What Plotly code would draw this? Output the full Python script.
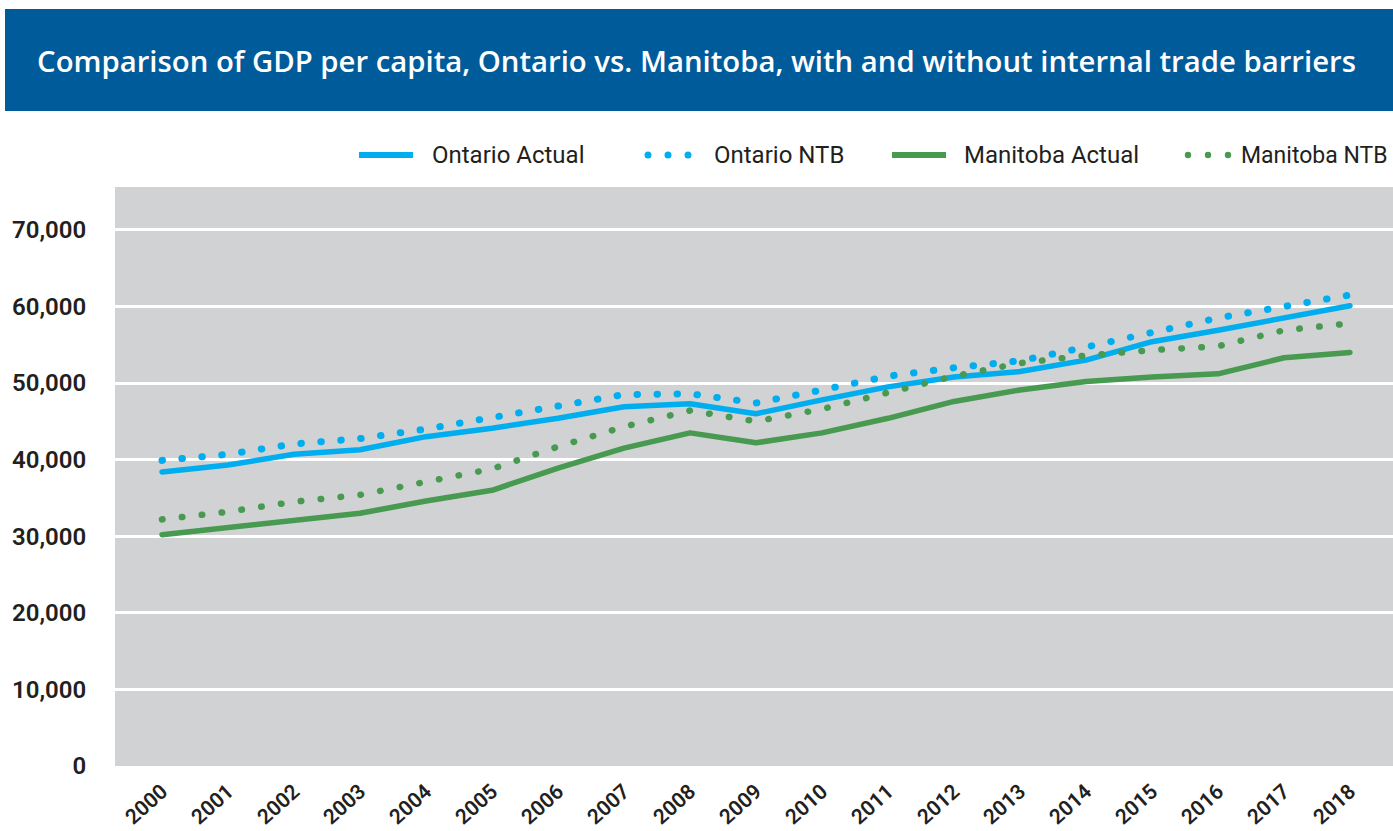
import plotly.graph_objects as go

years = list(range(2000, 2019))
ontario_actual = [38400, 39300, 40700, 41300, 43000, 44100, 45400, 46900, 47300, 46000,
                  47800, 49500, 50800, 51500, 53000, 55400, 56900, 58500, 60100]
ontario_ntb = [39900, 40700, 42050, 42750, 44000, 45500, 46800, 48500, 48600, 47400,
               49100, 50900, 52000, 52900, 54700, 56500, 58500, 60000, 61500]
manitoba_actual = [30200, 31100, 32100, 33000, 34600, 36000, 38900, 41500, 43500, 42200,
                   43500, 45400, 47600, 49100, 50200, 50800, 51200, 53300, 54000]
manitoba_ntb = [32200, 33200, 34500, 35400, 37100, 38800, 41700, 44300, 46400, 45000,
                46600, 48700, 50900, 52600, 53600, 54300, 54800, 56900, 57800]
y_ticks = [0, 10000, 20000, 30000, 40000, 50000, 60000, 70000]
y_ticklabels = ["0", "10,000", "20,000", "30,000", "40,000", "50,000", "60,000", "70,000"]

title = "Comparison of GDP per capita, Ontario vs. Manitoba, with and without internal trade barriers"
names = ["Ontario Actual", "Ontario NTB", "Manitoba Actual", "Manitoba NTB"]

BLUE = "#00AEEF"
GREEN = "#479A4F"
W, H = 1393, 831
L, R, T, B = 115, 0, 187, 65
PW = W - L - R
PH = H - T - B


def px_x(px):
    return (px - L) / PW


def px_y(py):
    return (H - B - py) / PH


fig = go.Figure()
fig.add_trace(go.Scatter(x=years, y=ontario_actual, mode="lines", name=names[0],
                         line=dict(color=BLUE, width=5.5), showlegend=False))
fig.add_trace(go.Scatter(x=years, y=ontario_ntb, mode="lines", name=names[1],
                         line=dict(color=BLUE, width=7, dash="0.5px,19.5px"), showlegend=False))
fig.add_trace(go.Scatter(x=years, y=manitoba_actual, mode="lines", name=names[2],
                         line=dict(color=GREEN, width=5.5), showlegend=False))
fig.add_trace(go.Scatter(x=years, y=manitoba_ntb, mode="lines", name=names[3],
                         line=dict(color=GREEN, width=6.5, dash="0.5px,19.5px"), showlegend=False))

shapes = []
annotations = []
# title bar
shapes.append(dict(type="rect", xref="paper", yref="paper",
                   x0=px_x(5), x1=px_x(1400), y0=px_y(111), y1=px_y(9),
                   fillcolor="#005B9B", line=dict(width=0), layer="below"))

# legend
leg_y = px_y(155)
shapes.append(dict(type="line", xref="paper", yref="paper", x0=px_x(359), x1=px_x(413),
                   y0=leg_y, y1=leg_y, line=dict(color=BLUE, width=6)))
shapes.append(dict(type="line", xref="paper", yref="paper", x0=px_x(892), x1=px_x(946),
                   y0=leg_y, y1=leg_y, line=dict(color=GREEN, width=6)))
for cx in (648, 668, 688):
    shapes.append(dict(type="circle", xref="paper", yref="paper", xsizemode="pixel", ysizemode="pixel",
                       xanchor=px_x(cx), yanchor=leg_y, x0=-3.5, x1=3.5, y0=-3.5, y1=3.5,
                       fillcolor=BLUE, line=dict(width=0)))
for cx in (1188, 1208, 1228):
    shapes.append(dict(type="circle", xref="paper", yref="paper", xsizemode="pixel", ysizemode="pixel",
                       xanchor=px_x(cx), yanchor=leg_y, x0=-3.2, x1=3.2, y0=-3.2, y1=3.2,
                       fillcolor=GREEN, line=dict(width=0)))
for txt, x, fs in zip(names, (430, 712, 962, 1239), (24, 24, 24, 23)):
    annotations.append(dict(text=txt, xref="paper", yref="paper", x=px_x(x), y=leg_y,
                            xanchor="left", yanchor="middle", showarrow=False,
                            font=dict(family="Roboto", size=fs, color="#231F20")))

fig.update_layout(
    width=W, height=H,
    margin=dict(l=L, r=R, t=T, b=B, autoexpand=False),
    paper_bgcolor="white",
    plot_bgcolor="#D1D2D4",
    title=dict(text=title, x=0.5, xanchor="center", y=1 - 62 / H, yanchor="middle",
               font=dict(family="Open Sans", size=29.3, color="white", weight=600)),
    shapes=shapes,
    annotations=annotations,
    showlegend=False,
)
fig.update_xaxes(range=[2000 - 47 / 66, 2018 + 43 / 66], tickmode="array", tickvals=years,
                 ticktext=[str(y) for y in years], tickangle=-42, showgrid=False, zeroline=False,
                 showline=False, ticks="outside", ticklen=4, tickcolor="rgba(0,0,0,0)",
                 tickfont=dict(family="Roboto", size=21, color="#231F20", weight=600))
fig.update_yaxes(range=[0, 75600], tickmode="array", tickvals=y_ticks, ticktext=y_ticklabels,
                 showgrid=True, gridcolor="white", gridwidth=3, zeroline=False, showline=False,
                 ticks="outside", ticklen=23, tickcolor="rgba(0,0,0,0)",
                 tickfont=dict(family="Roboto", size=24, color="#231F20", weight=600))

post = """
document.body.style.margin='0';
document.body.style.padding='0';
document.querySelectorAll('.scatterlayer .js-line').forEach(function(p){
  p.style.strokeLinecap='round'; p.style.strokeLinejoin='round';
});
"""
fig.write_html("out.html", post_script=post, config={"displayModeBar": False})
